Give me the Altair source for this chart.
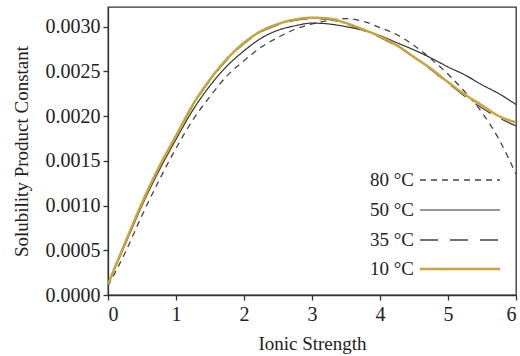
import altair as alt
import pandas as pd

ionic = [0.0, 0.25, 0.5, 0.75, 1.0, 1.25, 1.5, 1.75, 2.0, 2.25, 2.5, 2.75, 3.0,
         3.25, 3.5, 3.75, 4.0, 4.25, 4.5, 4.75, 5.0, 5.25, 5.5, 5.75, 6.0]

k_10 = [0.00012, 0.00058, 0.00103, 0.00143, 0.00178, 0.00213, 0.00241, 0.00264, 0.00282,
        0.00295, 0.00303, 0.00308, 0.00310, 0.00309, 0.00304, 0.00297, 0.00289, 0.00279,
        0.00266, 0.00253, 0.00238, 0.00224, 0.00212, 0.00200, 0.00193]
k_35 = [0.00012, 0.00057, 0.00102, 0.00142, 0.00177, 0.00212, 0.00240, 0.00263, 0.00281,
        0.00294, 0.00302, 0.00307, 0.00309, 0.00308, 0.00303, 0.00296, 0.00288, 0.00278,
        0.00266, 0.00252, 0.00237, 0.00222, 0.00209, 0.00198, 0.00189]
k_50 = [0.00012, 0.00056, 0.00100, 0.00139, 0.00174, 0.00207, 0.00234, 0.00256, 0.00273,
        0.00287, 0.00296, 0.00301, 0.00304, 0.00303, 0.00300, 0.00296, 0.00290, 0.00282,
        0.00274, 0.00265, 0.00255, 0.00246, 0.00235, 0.00225, 0.00213]
k_80 = [0.00010, 0.00047, 0.00089, 0.00128, 0.00164, 0.00196, 0.00222, 0.00245, 0.00262,
        0.00277, 0.00288, 0.00297, 0.00303, 0.00307, 0.00309, 0.00306, 0.00299, 0.00291,
        0.00279, 0.00264, 0.00247, 0.00227, 0.00204, 0.00174, 0.00135]

labels = ["80 °C", "50 °C", "35 °C", "10 °C"]
series = [k_80, k_50, k_35, k_10]
colors = ["#444444", "#333333", "#444444", "#C9A43A"]
widths = [1.3, 1.2, 1.3, 2.5]
dashes = [[6, 5], [1, 0], [18, 12], [1, 0]]
legend_y = [173, 203, 233, 262]

FONT = "Liberation Serif"

xs = alt.Scale(domain=[0, 6], nice=False, zero=False)
ys = alt.Scale(domain=[0, 0.00322], nice=False, zero=True)

layers = []
for lab, vals, col, w, d in zip(labels, series, colors, widths, dashes):
    df = pd.DataFrame({"I": ionic, "K": vals, "T": lab})
    layers.append(
        alt.Chart(df).mark_line(color=col, strokeWidth=w, strokeDash=d, interpolate="monotone", clip=True)
        .encode(
            x=alt.X("I:Q", scale=xs, axis=alt.Axis(title="Ionic Strength", values=[0, 1, 2, 3, 4, 5, 6],
                                                    format="d", titlePadding=10, labelPadding=4)),
            y=alt.Y("K:Q", scale=ys, axis=alt.Axis(title="Solubility Product Constant",
                                                    values=[0, 0.0005, 0.001, 0.0015, 0.002, 0.0025, 0.003],
                                                    format=".4f", titlePadding=14, labelPadding=3)),
        )
    )

leg_df = pd.DataFrame({"T": labels})
for lab, col, w, d, yv in zip(labels, colors, widths, dashes, legend_y):
    sub = leg_df[leg_df["T"] == lab]
    layers.append(
        alt.Chart(sub).mark_rule(color=col, strokeWidth=w, strokeDash=d)
        .encode(x=alt.value(312), x2=alt.value(392), y=alt.value(yv))
    )
    layers.append(
        alt.Chart(sub).mark_text(align="right", baseline="middle", font=FONT, fontSize=19, color="#222")
        .encode(text="T:N", x=alt.value(306), y=alt.value(yv))
    )

chart = (
    alt.layer(*layers)
    .properties(width=408, height=288, padding={"left": 108, "top": 7, "right": 4, "bottom": 61},
                autosize=alt.AutoSizeParams(type="none"), background="white")
    .configure_view(stroke="#333333", strokeWidth=1.3)
    .configure_axis(grid=False, domainColor="#333333", domainWidth=1.3, tickColor="#333333",
                    tickWidth=1.3, tickSize=5, labelFont=FONT, labelFontSize=20, labelColor="#222",
                    titleFont=FONT, titleFontSize=19, titleFontWeight="normal", titleColor="#222")
)

chart.save("out.html", embed_options={"renderer": "svg", "actions": False})
